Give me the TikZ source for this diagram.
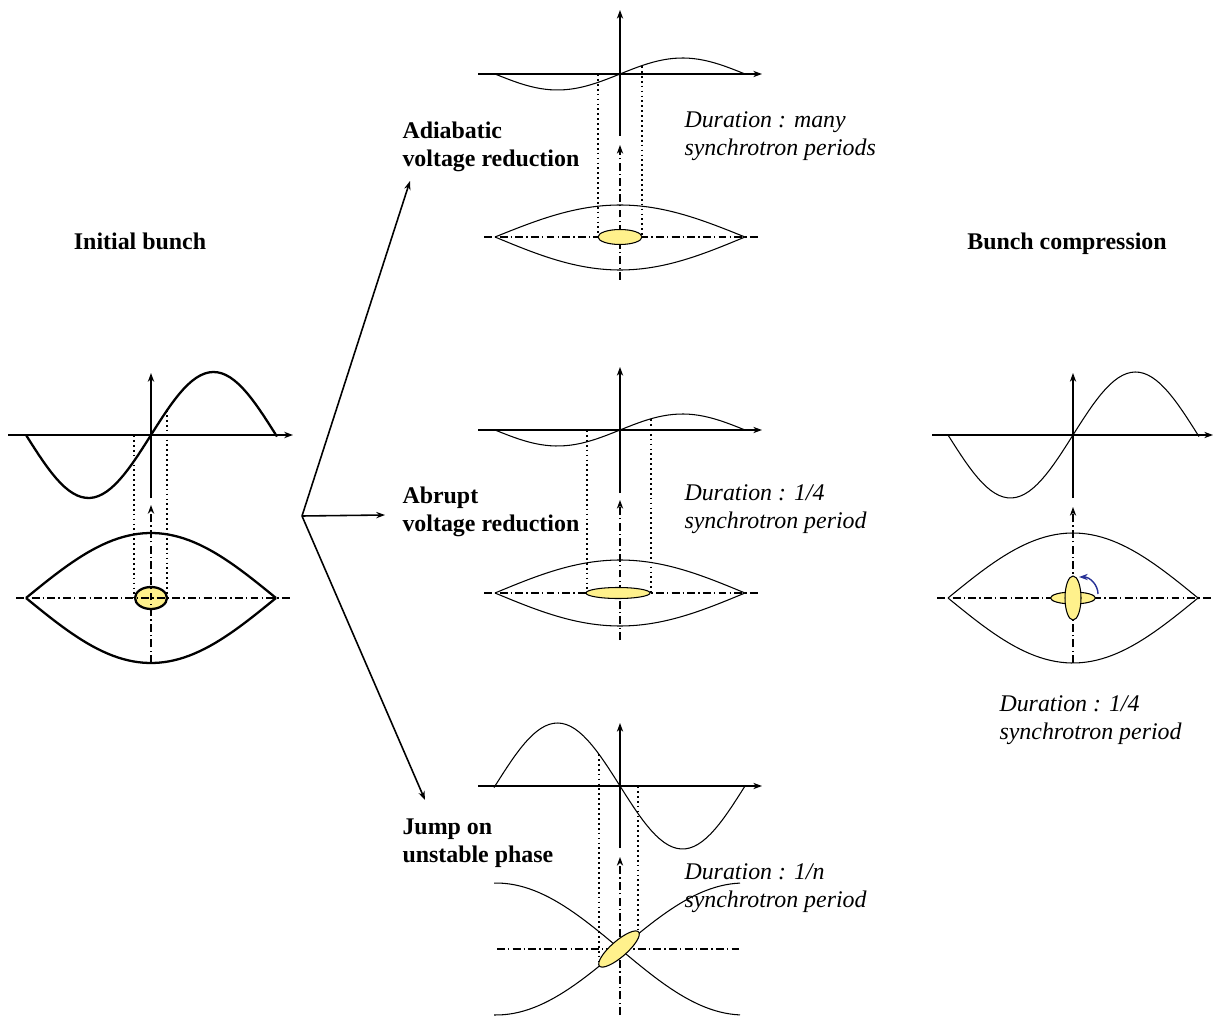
\documentclass[tikz,border=0pt]{standalone}
\usepackage{fontspec}
\setmainfont{Liberation Serif}
\usetikzlibrary{arrows.meta,positioning}
\definecolor{bunchyellow}{RGB}{255,241,140}
\definecolor{rotblue}{RGB}{40,50,150}

\begin{document}
\begin{tikzpicture}[
    x=0.02cm,y=-0.02cm,
    >={Stealth[length=5pt,width=3.6pt]},
    line width=0.6pt,
    title/.style={font=\fontsize{13.6}{16}\selectfont\bfseries,align=left,inner sep=0pt},
    note/.style={font=\fontsize{13.6}{16}\selectfont\itshape,align=left,inner sep=0pt},
    guide/.style={dash pattern=on 1pt off 1.8pt},
    centre/.style={dash pattern=on 4.5pt off 1.8pt on 0.8pt off 1.8pt},
    bunch/.style={draw,fill=bunchyellow},
    branch/.style={->,line width=0.9pt}
  ]
  \useasboundingbox (0,0) rectangle (1213,1016);

  % titles and durations
  \node[title] (init) at (140,241) {Initial bunch};
  \node[title] (comp) at (1067,244) {Bunch compression};
  \node[title,anchor=west] (adiab) at (402,147) {Adiabatic\\voltage reduction};
  \node[title,anchor=west] (abrupt) at (402,512) {Abrupt\\voltage reduction};
  \node[title,anchor=west] (jump) at (402,843) {Jump on\\unstable phase};
  \node[note,anchor=west] (durA) at (684,136) {Duration : many\\synchrotron periods};
  \node[note,anchor=west] (durB) at (684,509) {Duration : 1/4\\synchrotron period};
  \node[note,anchor=west] (durC) at (684,888) {Duration : 1/\textit{n}\\synchrotron period};
  \node[note,anchor=west] (durD) at (999,720) {Duration : 1/4\\synchrotron period};

  % the three ways out
  \coordinate (split) at (302,516);
  \coordinate (toAdiab) at (410,181);
  \coordinate (toAbrupt) at (385,515);
  \coordinate (toJump) at (425,800);
  \draw[branch] (split) -- (toAdiab);
  \draw[branch] (split) -- (toAbrupt);
  \draw[branch] (split) -- (toJump);

  % initial bunch
  \begin{scope}[shift={(151,435)},line width=1.3pt]
    \draw[->] (-143,0) -- (142,0);
    \draw[->] (0,63) -- (0,-62);
    \draw plot[domain=-125:126,samples=60] ({\x},{-63*sin(\x*1.44)});
    \draw[guide] (-17,0) -- (-17,163);
    \draw[guide] (16,-25) -- (16,163);
    \draw[bunch] (0,163) ellipse (16 and 11);
    \draw plot[domain=-125:125,samples=50] ({\x},{163-65*cos(\x*0.72)});
    \draw plot[domain=-125:125,samples=50] ({\x},{163+65*cos(\x*0.72)});
    \draw[centre,->] (0,228) -- (0,70);
    \draw[centre] (-135,163) -- (139,163);
  \end{scope}

  % adiabatic voltage reduction
  \begin{scope}[shift={(620,74)}]
    \draw[->] (-142,0) -- (142,0);
    \draw[->] (0,62) -- (0,-64);
    \draw plot[domain=-126:125,samples=50] ({\x},{-16*sin(\x*1.44)});
    \draw[guide] (-22,0) -- (-22,163);
    \draw[guide] (22,-8) -- (22,163);
    \draw plot[domain=-125:125,samples=50] ({\x},{163-32*cos(\x*0.72)});
    \draw plot[domain=-125:125,samples=50] ({\x},{163+33*cos(\x*0.72)});
    \draw[centre,->] (0,206) -- (0,71);
    \draw[centre] (-136,163) -- (138,163);
    \draw[bunch] (0,163) ellipse (22 and 7.5);
  \end{scope}

  % abrupt voltage reduction
  \begin{scope}[shift={(620,430)}]
    \draw[->] (-142,0) -- (142,0);
    \draw[->] (0,63) -- (0,-63);
    \draw plot[domain=-126:125,samples=50] ({\x},{-16*sin(\x*1.44)});
    \draw[guide] (-33,0) -- (-33,163);
    \draw[guide] (31,-11) -- (31,163);
    \draw plot[domain=-125:125,samples=50] ({\x},{163-33*cos(\x*0.72)});
    \draw plot[domain=-125:125,samples=50] ({\x},{163+33*cos(\x*0.72)});
    \draw[centre,->] (0,210) -- (0,70);
    \draw[centre] (-136,163) -- (138,163);
    \draw[bunch] (-2,163) ellipse (32 and 5.5);
  \end{scope}

  % jump on unstable phase
  \begin{scope}[shift={(620,786)}]
    \draw[->] (-142,0) -- (142,0);
    \draw[->] (0,62) -- (0,-63);
    \draw plot[domain=-126:125,samples=60] ({\x},{63*sin(\x*1.44)});
    \draw[guide] (-21,-32) -- (-21,180);
    \draw[guide] (18,0) -- (18,146);
    \draw plot[domain=-126:120,samples=50] ({\x},{163+66*sin(\x*0.7258)});
    \draw plot[domain=-126:120,samples=50] ({\x},{163-66*sin(\x*0.7258)});
    \draw[centre,->] (0,229) -- (0,71);
    \draw[centre] (-123,163) -- (120,163);
    \draw[bunch,rotate around={41:(-1,163)}] (-1,163) ellipse (26 and 8);
  \end{scope}

  % bunch compression
  \begin{scope}[shift={(1073,435)}]
    \draw[->] (-141,0) -- (140,0);
    \draw[->] (0,63) -- (0,-62);
    \draw plot[domain=-125:126,samples=60] ({\x},{-63*sin(\x*1.44)});
    \draw plot[domain=-125:126,samples=50] ({\x},{163-65*cos(\x*0.72)});
    \draw plot[domain=-125:126,samples=50] ({\x},{163+65*cos(\x*0.72)});
    \draw[centre,->] (0,228) -- (0,72);
    \draw[centre] (-136,163) -- (140,163);
    \draw[bunch] (0,163) ellipse (22.5 and 6);
    \draw[bunch] (0,163) ellipse (8 and 22);
    \draw[->,rotblue,line width=0.8pt] (25,159) .. controls (25,150) and (17,142) .. (6,142);
  \end{scope}
\end{tikzpicture}
\end{document}
